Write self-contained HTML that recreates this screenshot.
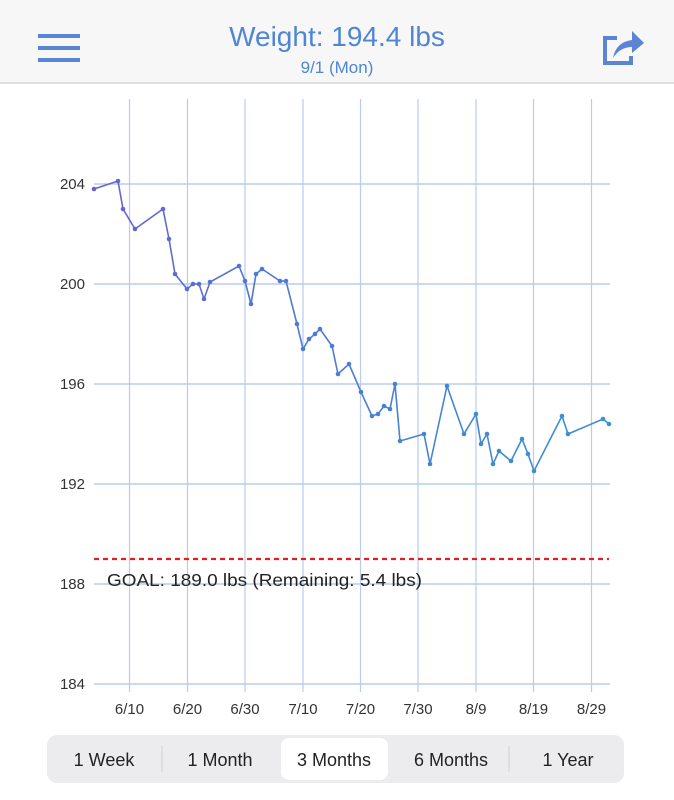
<!DOCTYPE html>
<html><head><meta charset="utf-8"><style>
body{margin:0;width:674px;height:800px;background:#fff;font-family:"Liberation Sans",sans-serif;overflow:hidden}
</style></head><body>
<svg width="674" height="800" xmlns="http://www.w3.org/2000/svg" style="position:absolute;left:0;top:0">
<defs>
<linearGradient id="g" gradientUnits="userSpaceOnUse" x1="94" y1="0" x2="609" y2="0">
<stop offset="0" stop-color="#6a62cc"/><stop offset="0.35" stop-color="#4f78d4"/><stop offset="1" stop-color="#3a92d2"/>
</linearGradient>
</defs>
<rect x="0" y="0" width="674" height="83" fill="#f7f7f7"/>
<line x1="0" y1="83" x2="674" y2="83" stroke="#d6d6d6" stroke-width="1.5"/>
<g fill="#5a84d4"><rect x="38" y="34" width="42" height="4"/><rect x="38" y="46" width="42" height="4"/><rect x="38" y="58" width="42" height="4"/></g>
<text x="337" y="46" text-anchor="middle" font-size="28" fill="#4f86d4">Weight: 194.4 lbs</text>
<text x="337" y="73" text-anchor="middle" font-size="17" fill="#4f86d4">9/1 (Mon)</text>
<path d="M617 38 H605 V63 H631 V56" fill="none" stroke="#5a84d4" stroke-width="4"/>
<path d="M613 58 Q616 42 632 40 V31 L644 43 L632 53 V47 Q620 47 613 58Z" fill="#5a84d4"/>
<g stroke="#b8cbee" stroke-width="1.2">
<line x1="129.5" y1="99" x2="129.5" y2="692"/><line x1="187.5" y1="99" x2="187.5" y2="692"/><line x1="245" y1="99" x2="245" y2="692"/><line x1="303" y1="99" x2="303" y2="692"/><line x1="360.5" y1="99" x2="360.5" y2="692"/><line x1="418" y1="99" x2="418" y2="692"/><line x1="476" y1="99" x2="476" y2="692"/><line x1="533.5" y1="99" x2="533.5" y2="692"/><line x1="591.5" y1="99" x2="591.5" y2="692"/>
</g>
<g stroke="#b8cbee" stroke-width="1.5">
<line x1="94" y1="184" x2="610" y2="184"/><line x1="94" y1="284" x2="610" y2="284"/><line x1="94" y1="384" x2="610" y2="384"/><line x1="94" y1="484" x2="610" y2="484"/><line x1="94" y1="584" x2="610" y2="584"/><line x1="94" y1="684" x2="610" y2="684"/>
</g>
<g font-size="15" fill="#333" text-anchor="end">
<text x="85" y="189">204</text><text x="85" y="289">200</text><text x="85" y="389">196</text><text x="85" y="489">192</text><text x="85" y="589">188</text><text x="85" y="689">184</text>
</g>
<g font-size="15" fill="#333" text-anchor="middle">
<text x="129.5" y="714">6/10</text><text x="187.5" y="714">6/20</text><text x="245" y="714">6/30</text><text x="303" y="714">7/10</text><text x="360.5" y="714">7/20</text><text x="418" y="714">7/30</text><text x="476" y="714">8/9</text><text x="533.5" y="714">8/19</text><text x="591.5" y="714">8/29</text>
</g>
<line x1="94" y1="559" x2="609" y2="559" stroke="#e02020" stroke-width="2.2" stroke-dasharray="5,4"/>
<text x="107" y="586" font-size="17.5" fill="#222" textLength="315" lengthAdjust="spacingAndGlyphs">GOAL: 189.0 lbs (Remaining: 5.4 lbs)</text>
<polyline fill="none" stroke="url(#g)" stroke-width="1.6" points="94,189 118,181 123,209 135,229 163,209 169,239 175,274 187,289 193,284 199,284 204,299 210,282 239,266 245,281 251,304 256,274 262,269 280,281 286,281 297,324 303,349 309,339 315,334 320,329 332,346 338,374 349,364 361,392 372,416 378,414 384,406 390,409 395,384 400,441 424,434 430,464 447,386 464,434 476,414 481,444 487,434 493,464 499,451 511,461 522,439 528,454 534,471 562,416 568,434 603,419 609,424"/>
<g fill="url(#g)">
<circle cx="94" cy="189" r="2.3"/><circle cx="118" cy="181" r="2.3"/><circle cx="123" cy="209" r="2.3"/><circle cx="135" cy="229" r="2.3"/><circle cx="163" cy="209" r="2.3"/><circle cx="169" cy="239" r="2.3"/><circle cx="175" cy="274" r="2.3"/><circle cx="187" cy="289" r="2.3"/><circle cx="193" cy="284" r="2.3"/><circle cx="199" cy="284" r="2.3"/><circle cx="204" cy="299" r="2.3"/><circle cx="210" cy="282" r="2.3"/><circle cx="239" cy="266" r="2.3"/><circle cx="245" cy="281" r="2.3"/><circle cx="251" cy="304" r="2.3"/><circle cx="256" cy="274" r="2.3"/><circle cx="262" cy="269" r="2.3"/><circle cx="280" cy="281" r="2.3"/><circle cx="286" cy="281" r="2.3"/><circle cx="297" cy="324" r="2.3"/><circle cx="303" cy="349" r="2.3"/><circle cx="309" cy="339" r="2.3"/><circle cx="315" cy="334" r="2.3"/><circle cx="320" cy="329" r="2.3"/><circle cx="332" cy="346" r="2.3"/><circle cx="338" cy="374" r="2.3"/><circle cx="349" cy="364" r="2.3"/><circle cx="361" cy="392" r="2.3"/><circle cx="372" cy="416" r="2.3"/><circle cx="378" cy="414" r="2.3"/><circle cx="384" cy="406" r="2.3"/><circle cx="390" cy="409" r="2.3"/><circle cx="395" cy="384" r="2.3"/><circle cx="400" cy="441" r="2.3"/><circle cx="424" cy="434" r="2.3"/><circle cx="430" cy="464" r="2.3"/><circle cx="447" cy="386" r="2.3"/><circle cx="464" cy="434" r="2.3"/><circle cx="476" cy="414" r="2.3"/><circle cx="481" cy="444" r="2.3"/><circle cx="487" cy="434" r="2.3"/><circle cx="493" cy="464" r="2.3"/><circle cx="499" cy="451" r="2.3"/><circle cx="511" cy="461" r="2.3"/><circle cx="522" cy="439" r="2.3"/><circle cx="528" cy="454" r="2.3"/><circle cx="534" cy="471" r="2.3"/><circle cx="562" cy="416" r="2.3"/><circle cx="568" cy="434" r="2.3"/><circle cx="603" cy="419" r="2.3"/><circle cx="609" cy="424" r="2.3"/>
</g>
<rect x="47" y="735" width="577" height="48" rx="10" fill="#ececee"/>
<rect x="281" y="738" width="107" height="42" rx="8" fill="#fff"/>
<g stroke="#cfcfd2" stroke-width="1"><line x1="162" y1="746" x2="162" y2="772"/><line x1="509" y1="746" x2="509" y2="772"/></g>
<g font-size="18" fill="#222" text-anchor="middle">
<text x="104" y="766">1 Week</text><text x="220" y="766">1 Month</text><text x="334" y="766">3 Months</text><text x="451" y="766">6 Months</text><text x="568" y="766">1 Year</text>
</g>
</svg>
</body></html>
